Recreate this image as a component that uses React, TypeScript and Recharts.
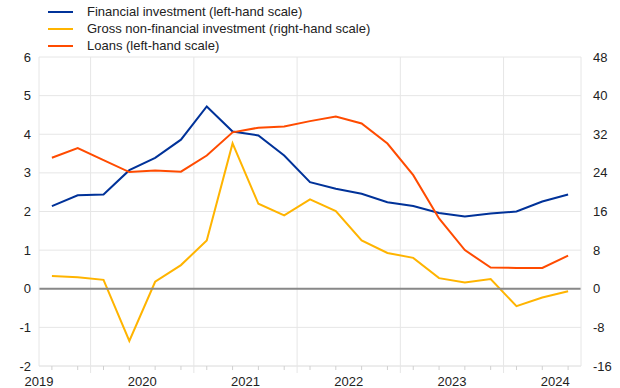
import React from "react"
import {
  LineChart,
  Line,
  XAxis,
  YAxis,
  CartesianGrid,
  ReferenceLine,
  Legend,
} from "recharts"

// quarterly observations, 2019Q3 - 2024Q3
const quarters = [
  "2019Q3", "2019Q4",
  "2020Q1", "2020Q2", "2020Q3", "2020Q4",
  "2021Q1", "2021Q2", "2021Q3", "2021Q4",
  "2022Q1", "2022Q2", "2022Q3", "2022Q4",
  "2023Q1", "2023Q2", "2023Q3", "2023Q4",
  "2024Q1", "2024Q2", "2024Q3",
]

const financialInvestment = [
  2.14, 2.42, 2.44, 3.07, 3.39, 3.86, 4.72, 4.07, 3.97, 3.45, 2.76, 2.59,
  2.46, 2.24, 2.14, 1.96, 1.87, 1.95, 2.0, 2.26, 2.44,
]

// right-hand scale
const grossNonFinancial = [
  2.65, 2.4, 1.85, -10.8, 1.45, 4.9, 10.0, 30.1, 17.6, 15.2, 18.5, 16.1,
  10.0, 7.4, 6.4, 2.2, 1.3, 2.0, -3.6, -1.8, -0.5,
]

const loans = [
  3.39, 3.64, 3.33, 3.02, 3.06, 3.03, 3.45, 4.05, 4.17, 4.2, 4.34, 4.46,
  4.28, 3.76, 2.94, 1.82, 1.0, 0.55, 0.54, 0.54, 0.86,
]

const years = ["2019", "2020", "2021", "2022", "2023", "2024"]
const leftTicks = [-2, -1, 0, 1, 2, 3, 4, 5, 6]
const rightTicks = [-16, -8, 0, 8, 16, 24, 32, 40, 48]

const BLUE = "#003299"
const YELLOW = "#ffb400"
const ORANGE = "#ff4b00"
const GRID = "#e6e6e6"
const TEXT = "#222"

// position of a quarter on the index axis (first quarter = 0)
const [firstYear, firstQ] = [Number(quarters[0].slice(0, 4)), Number(quarters[0].slice(5))]
const quarterPos = (year: number, q: number) => (year - firstYear) * 4 + (q - firstQ)

const yearCenters = years.map((y) => quarterPos(Number(y), 1) + 1.5)
const yearBounds = years.slice(1).map((y) => quarterPos(Number(y), 1) - 0.5)

const data = quarters.map((q, i) => ({
  idx: i,
  quarter: q,
  financial: financialInvestment[i],
  gross: grossNonFinancial[i],
  loans: loans[i],
}))

const xTicks = [...quarters.map((_, i) => i), ...yearBounds, ...yearCenters].sort((a, b) => a - b)

function TimeTick(props: any) {
  const { x, y, payload } = props
  const v = payload.value
  const ci = yearCenters.indexOf(v)
  if (ci >= 0) {
    return (
      <text x={x} y={y + 20} textAnchor="middle" fill={TEXT} fontSize={13}>
        {years[ci]}
      </text>
    )
  }
  if (yearBounds.includes(v)) {
    return <line x1={x} x2={x} y1={y} y2={y + 7} stroke={GRID} />
  }
  return <line x1={x} x2={x} y1={y} y2={y + 4} stroke="#d0d0d0" />
}

function LegendBox({ payload }: any) {
  return (
    <div style={{ paddingTop: 3 }}>
      {(payload || []).map((p: any) => (
        <div
          key={p.value}
          style={{ display: "flex", alignItems: "center", height: 17, fontSize: 13, color: TEXT }}
        >
          <span
            style={{ display: "inline-block", width: 25, height: 2, background: p.color, marginLeft: 48, marginRight: 14 }}
          />
          {p.value}
        </div>
      ))}
    </div>
  )
}

export default function App() {
  return (
    <div
      style={{
        position: "absolute",
        left: 0,
        top: 0,
        width: 620,
        height: 388,
        background: "#fff",
        fontFamily: "'Liberation Sans', Arial, sans-serif",
      }}
    >
      <LineChart width={620} height={388} data={data} margin={{ top: 57, right: 0, bottom: 0, left: 0 }}>
        <CartesianGrid yAxisId="left" vertical={false} stroke={GRID} />
        <XAxis
          dataKey="idx"
          type="number"
          domain={[-0.5, quarters.length - 0.5]}
          ticks={xTicks}
          interval={0}
          tick={<TimeTick />}
          tickLine={false}
          tickSize={0}
          tickMargin={0}
          height={22}
          axisLine={{ stroke: GRID }}
        />
        <YAxis
          yAxisId="left"
          domain={[-2, 6]}
          ticks={leftTicks}
          width={39}
          tickLine={false}
          tickSize={0}
          tickMargin={8}
          axisLine={{ stroke: GRID }}
          tick={{ fill: TEXT, fontSize: 13 }}
        />
        <YAxis
          yAxisId="right"
          orientation="right"
          domain={[-16, 48]}
          ticks={rightTicks}
          width={39}
          tickLine={false}
          tickSize={0}
          tickMargin={12}
          axisLine={{ stroke: GRID }}
          tick={{ fill: TEXT, fontSize: 13, textAnchor: "start" }}
        />
        {yearBounds.map((b) => (
          <ReferenceLine key={b} x={b} yAxisId="left" stroke={GRID} />
        ))}
        <Legend
          verticalAlign="middle"
          align="center"
          layout="horizontal"
          wrapperStyle={{ top: 0, left: 0, width: 450 }}
          content={<LegendBox />}
        />
        <Line
          yAxisId="left"
          dataKey="financial"
          name="Financial investment (left-hand scale)"
          stroke={BLUE}
          strokeWidth={2}
          dot={false}
          isAnimationActive={false}
        />
        <Line
          yAxisId="right"
          dataKey="gross"
          name="Gross non-financial investment (right-hand scale)"
          stroke={YELLOW}
          strokeWidth={2}
          dot={false}
          isAnimationActive={false}
        />
        <Line
          yAxisId="left"
          dataKey="loans"
          name="Loans (left-hand scale)"
          stroke={ORANGE}
          strokeWidth={2}
          dot={false}
          isAnimationActive={false}
        />
        <ReferenceLine y={0} yAxisId="left" stroke="#888" strokeWidth={2} />
      </LineChart>
    </div>
  )
}
